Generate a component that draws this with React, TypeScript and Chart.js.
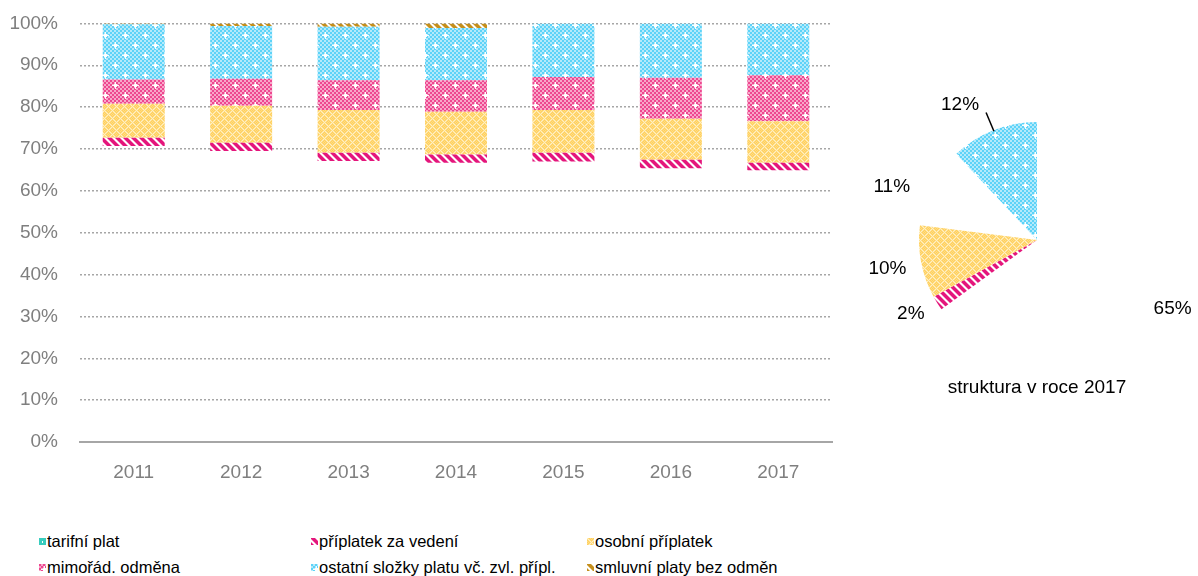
import React, { useEffect, useRef, useState } from "react";
import { Chart, registerables } from "chart.js";

Chart.register(...registerables);

// ---------- DATA ----------
const years = ["2011", "2012", "2013", "2014", "2015", "2016", "2017"];
const tarifniPlat = [70.7, 69.5, 67.1, 66.7, 67.0, 65.4, 64.9];
const priplatekZaVedeni = [2.0, 2.0, 2.0, 2.0, 2.1, 2.0, 1.8];
const osobniPriplatek = [8.1, 8.8, 10.2, 10.2, 10.2, 9.8, 9.9];
const mimoradOdmena = [5.8, 6.5, 7.1, 7.5, 7.9, 9.8, 11.0];
const ostatniSlozky = [13.2, 12.6, 12.8, 12.5, 12.8, 13.0, 12.4];
const smluvniPlaty = [0.2, 0.6, 0.8, 1.1, 0, 0, 0];

const seriesNames = [
  "tarifní plat",
  "příplatek za vedení",
  "osobní příplatek",
  "mimořád. odměna",
  "ostatní složky platu vč. zvl. přípl.",
  "smluvní platy bez odměn",
];

const pieLabels = seriesNames.slice(0, 5);
const pieValues2017 = [65, 2, 10, 11, 12];
const pieTitle = "struktura v roce 2017";

// ---------- PATTERNS ----------
type Kind = "teal" | "stripePink" | "yellow" | "pink" | "blue" | "gold";

function makeTile(kind: Kind): HTMLCanvasElement {
  const c = document.createElement("canvas");
  const ctx = c.getContext("2d")!;
  if (kind === "blue" || kind === "pink") {
    const s = 20;
    c.width = s;
    c.height = s;
    const dark = kind === "blue" ? "#5dd3f8" : "#ee4790";
    const light = kind === "blue" ? "#b3eafb" : "#f8a6c9";
    for (let i = 0; i < s / 2; i++) {
      for (let j = 0; j < s / 2; j++) {
        ctx.fillStyle = (i + j) % 2 === 0 ? dark : light;
        ctx.fillRect(i * 2, j * 2, 2, 2);
      }
    }
    ctx.fillStyle = "rgba(255,255,255,0.95)";
    const stars = [
      [5, 5],
      [15, 15],
    ];
    for (const [x, y] of stars) {
      ctx.fillRect(x - 3, y, 7, 1);
      ctx.fillRect(x, y - 3, 1, 7);
      ctx.fillRect(x - 1, y - 1, 3, 3);
    }
  } else if (kind === "yellow") {
    const s = 8;
    c.width = s;
    c.height = s;
    for (let x = 0; x < s; x++) {
      for (let y = 0; y < s; y++) {
        const line = (x + y) % s === 0 || (x - y + s) % s === 0;
        ctx.fillStyle = line ? "#fff0c4" : (x + y) % 2 === 0 ? "#ffd05e" : "#ffdc84";
        ctx.fillRect(x, y, 1, 1);
      }
    }
  } else if (kind === "stripePink" || kind === "gold") {
    const s = 8;
    c.width = s;
    c.height = s;
    const col = kind === "gold" ? "#c58f1c" : "#e4167c";
    for (let x = 0; x < s; x++) {
      for (let y = 0; y < s; y++) {
        const v = (x - y + 2 * s) % s;
        ctx.fillStyle = v < 4 ? col : v === 4 || v === 7 ? (kind === "gold" ? "#e2c68a" : "#f28abc") : "#ffffff";
        ctx.fillRect(x, y, 1, 1);
      }
    }
  } else {
    const s = 7;
    c.width = s;
    c.height = s;
    ctx.fillStyle = "#38cdbf";
    ctx.fillRect(0, 0, s, s);
    ctx.fillStyle = "#ffffff";
    ctx.fillRect(3, 3, 1, 2);
  }
  return c;
}

const legendKinds: Kind[] = ["teal", "stripePink", "yellow", "pink", "blue", "gold"];

const FONT = "'Liberation Sans', Arial, Helvetica, sans-serif";

export default function App() {
  const barRef = useRef<HTMLCanvasElement | null>(null);
  const pieRef = useRef<HTMLCanvasElement | null>(null);
  const [swatches, setSwatches] = useState<string[]>([]);

  useEffect(() => {
    Chart.defaults.font.family = FONT;
    const tiles: Record<string, HTMLCanvasElement> = {};
    legendKinds.forEach((k) => (tiles[k] = makeTile(k)));
    setSwatches(legendKinds.map((k) => tiles[k].toDataURL()));

    const barCtx = barRef.current!.getContext("2d")!;
    const pat = (k: Kind, ctx: CanvasRenderingContext2D) => ctx.createPattern(tiles[k], "repeat")!;

    const seriesData = [tarifniPlat, priplatekZaVedeni, osobniPriplatek, mimoradOdmena, ostatniSlozky, smluvniPlaty];
    const barFills = [
      "rgba(0,0,0,0)",
      pat("stripePink", barCtx),
      pat("yellow", barCtx),
      pat("pink", barCtx),
      pat("blue", barCtx),
      pat("gold", barCtx),
    ];

    const bar = new Chart(barCtx, {
      type: "bar",
      data: {
        labels: years,
        datasets: seriesData.map((d, i) => ({
          label: seriesNames[i],
          data: d,
          backgroundColor: barFills[i],
          borderWidth: 0,
          categoryPercentage: 1,
          barPercentage: 0.577,
        })),
      },
      options: {
        animation: false,
        responsive: false,
        layout: { padding: { top: 12, right: 18, left: 0, bottom: 0 } },
        plugins: { legend: { display: false }, tooltip: { enabled: false } },
        scales: {
          x: {
            stacked: true,
            grid: { display: false, drawTicks: false },
            border: { display: true, color: "#a6a6a6", width: 2 },
            ticks: { color: "#7f7f7f", font: { size: 19, family: FONT }, padding: 19 },
            afterFit: (s: any) => {
              s.height = 58;
            },
          },
          y: {
            stacked: true,
            min: 0,
            max: 100,
            ticks: {
              stepSize: 10,
              color: "#7f7f7f",
              font: { size: 19, family: FONT },
              padding: 22,
              callback: (v: any) => `${v}%`,
            },
            grid: {
              drawTicks: false,
              lineWidth: 1.5,
              color: (ctx: any) => (ctx.tick && ctx.tick.value === 0 ? "rgba(0,0,0,0)" : "#a6a6a6"),
            },
            border: { display: false, dash: [2, 2] },
            afterFit: (s: any) => {
              s.width = 80;
            },
          },
        },
      },
    });

    const pieCtx = pieRef.current!.getContext("2d")!;
    const pieFills = [
      "rgba(0,0,0,0)",
      pat("stripePink", pieCtx),
      pat("yellow", pieCtx),
      "rgba(0,0,0,0)",
      pat("blue", pieCtx),
    ];
    const labelDist = [1.29, 1.24, 1.29, 1.31, 1.32];
    const labelNudgeDeg = [0, 2, 0, -7, -8];

    const pieLabelPlugin = {
      id: "pieLabels",
      afterDatasetsDraw(chart: any) {
        const ctx = chart.ctx;
        const meta = chart.getDatasetMeta(0);
        ctx.save();
        ctx.font = `19px ${FONT}`;
        ctx.fillStyle = "#000000";
        ctx.textAlign = "center";
        ctx.textBaseline = "middle";
        meta.data.forEach((arc: any, i: number) => {
          const p = arc.getProps(["x", "y", "startAngle", "endAngle", "outerRadius"], true);
          const mid = (p.startAngle + p.endAngle) / 2;
          const a = mid + (labelNudgeDeg[i] * Math.PI) / 180;
          const d = p.outerRadius * labelDist[i];
          const lx = p.x + Math.cos(a) * d;
          const ly = p.y + Math.sin(a) * d;
          ctx.fillText(`${pieValues2017[i]}%`, lx, ly);
          if (i === 4) {
            ctx.strokeStyle = "#000000";
            ctx.lineWidth = 1.5;
            ctx.beginPath();
            ctx.moveTo(p.x + Math.cos(mid) * (p.outerRadius - 1), p.y + Math.sin(mid) * (p.outerRadius - 1));
            ctx.lineTo(lx + 26, ly + 8);
            ctx.stroke();
          }
        });
        ctx.restore();
      },
    };

    const pie = new Chart(pieCtx, {
      type: "pie",
      data: {
        labels: pieLabels,
        datasets: [{ data: pieValues2017, backgroundColor: pieFills, borderWidth: 0 }],
      },
      options: {
        animation: false,
        responsive: false,
        layout: { padding: { left: 79, right: 43, top: 82, bottom: 82 } },
        plugins: { legend: { display: false }, tooltip: { enabled: false } },
      },
      plugins: [pieLabelPlugin],
    });

    return () => {
      bar.destroy();
      pie.destroy();
    };
  }, []);

  const legendCols = [39, 311, 587];
  const legendRows = [541, 567];

  return (
    <div
      style={{
        position: "fixed",
        left: 0,
        top: 0,
        width: 1198,
        height: 576,
        background: "#ffffff",
        fontFamily: FONT,
        overflow: "hidden",
      }}
    >
      <canvas
        ref={barRef}
        width={850}
        height={510}
        style={{ position: "absolute", left: 0, top: -10, width: 850, height: 510 }}
      />
      <canvas
        ref={pieRef}
        width={358}
        height={400}
        style={{ position: "absolute", left: 840, top: 40, width: 358, height: 400 }}
      />
      <div
        style={{
          position: "absolute",
          left: 917,
          top: 376,
          width: 240,
          textAlign: "center",
          fontSize: 19,
          lineHeight: "22px",
          color: "#000",
        }}
      >
        {pieTitle}
      </div>
      {seriesNames.map((name, i) => {
        const col = i % 3;
        const row = Math.floor(i / 3);
        return (
          <div
            key={name}
            style={{
              position: "absolute",
              left: legendCols[col],
              top: legendRows[row] - 10,
              height: 20,
              display: "flex",
              alignItems: "center",
              whiteSpace: "nowrap",
              fontSize: 16.5,
              color: "#000",
            }}
          >
            <span
              style={{
                display: "inline-block",
                width: 7,
                height: 7,
                marginRight: 1,
                backgroundImage: swatches[i] ? `url(${swatches[i]})` : undefined,
                backgroundRepeat: "repeat",
              }}
            />
            <span>{name}</span>
          </div>
        );
      })}
    </div>
  );
}
